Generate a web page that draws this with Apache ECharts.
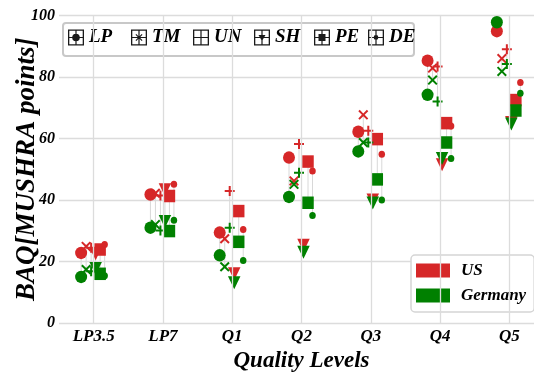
<!DOCTYPE html>
<html><head><meta charset="utf-8">
<script src="https://cdn.jsdelivr.net/npm/echarts@6/dist/echarts.min.js"></script>
<style>html,body{margin:0;padding:0;background:#fff}#c{width:534px;height:373px}</style>
</head><body><div id="c"></div>
<script>
const categories = ['LP3.5', 'LP7', 'Q1', 'Q2', 'Q3', 'Q4', 'Q5'];
const types = ['LP', 'TM', 'UN', 'SH', 'PE', 'DE'];
const countries = ['US', 'Germany'];
const yTicks = [0, 20, 40, 60, 80, 100];

// US values per condition type
const usLP = [22.8, 41.8, 29.4, 53.8, 62.2, 85.3, 94.9];
const usTM = [24.9, 42.2, 27.4, 46.2, 67.7, 82.9, 86.0];
const usUN = [24.5, 41.5, 42.9, 58.2, 62.5, 83.4, 89.0];
const usSH = [22.5, 43.3, 16.0, 25.3, 40.0, 51.5, 65.2];
const usPE = [23.9, 41.3, 36.4, 52.5, 59.8, 65.0, 72.5];
const usDE = [25.5, 45.1, 30.4, 49.4, 54.9, 64.1, 78.2];
// Germany values per condition type
const deLP = [15.0, 31.0, 22.0, 41.0, 55.8, 74.2, 97.8];
const deTM = [17.4, 32.0, 18.3, 45.1, 58.7, 79.0, 81.8];
const deUN = [16.8, 30.1, 31.0, 48.9, 58.7, 72.0, 84.2];
const deSH = [17.7, 33.0, 13.1, 23.0, 39.0, 53.5, 64.7];
const dePE = [16.0, 29.9, 26.4, 39.1, 46.7, 58.7, 69.1];
const deDE = [15.4, 33.4, 20.3, 35.0, 40.0, 53.5, 74.7];

const usData = {LP: usLP, TM: usTM, UN: usUN, SH: usSH, PE: usPE, DE: usDE};
const deData = {LP: deLP, TM: deTM, UN: deUN, SH: deSH, PE: dePE, DE: deDE};

// styles
const FONT = 'Liberation Serif';
const colors = {US: '#d62728', Germany: '#008000'};
const offsets = {LP: -12.5, TM: -7.5, UN: -2.5, SH: 2, PE: 6.5, DE: 11};
const legendLefts = {LP: 68, TM: 131, UN: 193, SH: 254, PE: 314, DE: 368};
const symbols = {
  LP: 'circle',
  TM: 'path://M0,1.4L1.4,0L5,3.6L8.6,0L10,1.4L6.4,5L10,8.6L8.6,10L5,6.4L1.4,10L0,8.6L3.6,5Z',
  UN: 'path://M4,0H6V4H10V6H6V10H4V6H0V4H4Z',
  SH: 'path://M0,0H10L5,10Z',
  PE: 'rect',
  DE: 'circle'
};
const sizes = {LP: [12, 12.5], TM: [10, 10], UN: [10, 10], SH: [12.5, 13], PE: [11.5, 12.5], DE: [6.5, 7]};
const ring = 'M0,0H16V16H0Z M1.3,1.3V14.7H14.7V1.3Z M0,7.4H16V8.6H0Z M7.4,0H8.6V16H7.4Z ';
const iconMarks = {
  LP: 'M4.2,8A3.8,3.8 0 1,1 11.8,8A3.8,3.8 0 1,1 4.2,8Z',
  TM: 'M4.5,5.3L5.3,4.5L8,7.2L10.7,4.5L11.5,5.3L8.8,8L11.5,10.7L10.7,11.5L8,8.8L5.3,11.5L4.5,10.7L7.2,8Z',
  UN: '',
  SH: 'M4.5,5.5H11.5L8,11.5Z',
  PE: 'M4.5,4.5H11.5V11.5H4.5Z',
  DE: 'M5.6,8A2.4,2.4 0 1,1 10.4,8A2.4,2.4 0 1,1 5.6,8Z'
};
const txt = {fontFamily: FONT, fontWeight: 'bold', fontStyle: 'italic', color: '#000'};

const series = [];
types.forEach((t, k) => {
  const off = offsets[t];
  const s = {
    name: '_link' + t,
    type: 'custom',
    silent: true,
    z: 1,
    data: categories.map((c, i) => [i, usData[t][i], deData[t][i]]),
    renderItem: (params, api) => {
      const a = api.coord([api.value(0), api.value(1)]);
      const b = api.coord([api.value(0), api.value(2)]);
      return {type: 'line', shape: {x1: a[0] + off, y1: a[1], x2: b[0] + off, y2: b[1]},
              style: {stroke: '#d8d8d8', lineWidth: 1}};
    }
  };
  if (k === 0) {
    s.markLine = {
      silent: true, symbol: 'none', animation: false,
      label: {show: false},
      lineStyle: {color: '#dcdcdc', width: 1.3, type: 'solid'},
      data: categories.map(c => ({xAxis: c}))
    };
  }
  series.push(s);
});
countries.forEach((cn, ci) => {
  const src = cn === 'US' ? usData : deData;
  types.forEach(t => {
    series.push({
      name: t, type: 'scatter', z: 3 + ci,
      data: src[t],
      symbol: symbols[t], symbolSize: sizes[t], symbolOffset: [offsets[t], 0],
      itemStyle: {color: colors[cn], opacity: 1},
      emphasis: {disabled: true}
    });
  });
});
countries.forEach(cn => {
  series.push({name: cn, type: 'scatter', data: [], itemStyle: {color: colors[cn], opacity: 1}});
});

const typeLegends = types.map(t => ({
  data: [{name: t, icon: 'path://' + ring + iconMarks[t], itemStyle: {color: '#1a1a1a'}}],
  left: legendLefts[t], top: 28, padding: 0, itemWidth: 16, itemHeight: 16,
  textStyle: Object.assign({fontSize: 19}, txt)
}));

const chart = echarts.init(document.getElementById('c'), null, {renderer: 'canvas'});
chart.setOption({
  animation: false,
  backgroundColor: '#fff',
  grid: {left: 59, top: 15.5, width: 485, height: 307.5, containLabel: false, outerBoundsMode: 'none'},
  xAxis: {
    type: 'category', data: categories, boundaryGap: true,
    name: 'Quality Levels', nameLocation: 'middle', nameGap: 24,
    nameTextStyle: Object.assign({fontSize: 23}, txt),
    axisLine: {show: false}, axisTick: {show: false},
    axisLabel: Object.assign({fontSize: 17, margin: 5}, txt),
    splitLine: {show: false}
  },
  yAxis: {
    type: 'value', min: yTicks[0], max: yTicks[yTicks.length - 1], interval: 20,
    name: 'BAQ[MUSHRA points]', nameLocation: 'middle', nameGap: 18, nameMoveOverlap: false,
    nameTextStyle: Object.assign({fontSize: 27}, txt),
    axisLine: {show: false}, axisTick: {show: false},
    axisLabel: Object.assign({fontSize: 16, margin: 4}, txt),
    splitLine: {show: true, lineStyle: {color: '#dcdcdc', width: 1.3}}
  },
  graphic: [{
    type: 'rect', left: 62, top: 22, z: 3, silent: true,
    shape: {width: 351, height: 33, r: 3},
    style: {fill: 'rgba(255,255,255,0.4)', stroke: '#c8c8c8', lineWidth: 2}
  }],
  legend: typeLegends.concat([{
    data: countries.map(c => ({name: c, icon: 'rect'})),
    orient: 'vertical', left: 411, top: 255,
    padding: [7, 8, 8, 5], itemWidth: 34, itemHeight: 14, itemGap: 8,
    backgroundColor: '#fff', borderColor: '#d5d5d5', borderWidth: 1.5, borderRadius: 4,
    textStyle: Object.assign({fontSize: 17, padding: [0, 0, 0, 6]}, txt)
  }]),
  series: series
});
</script></body></html>
